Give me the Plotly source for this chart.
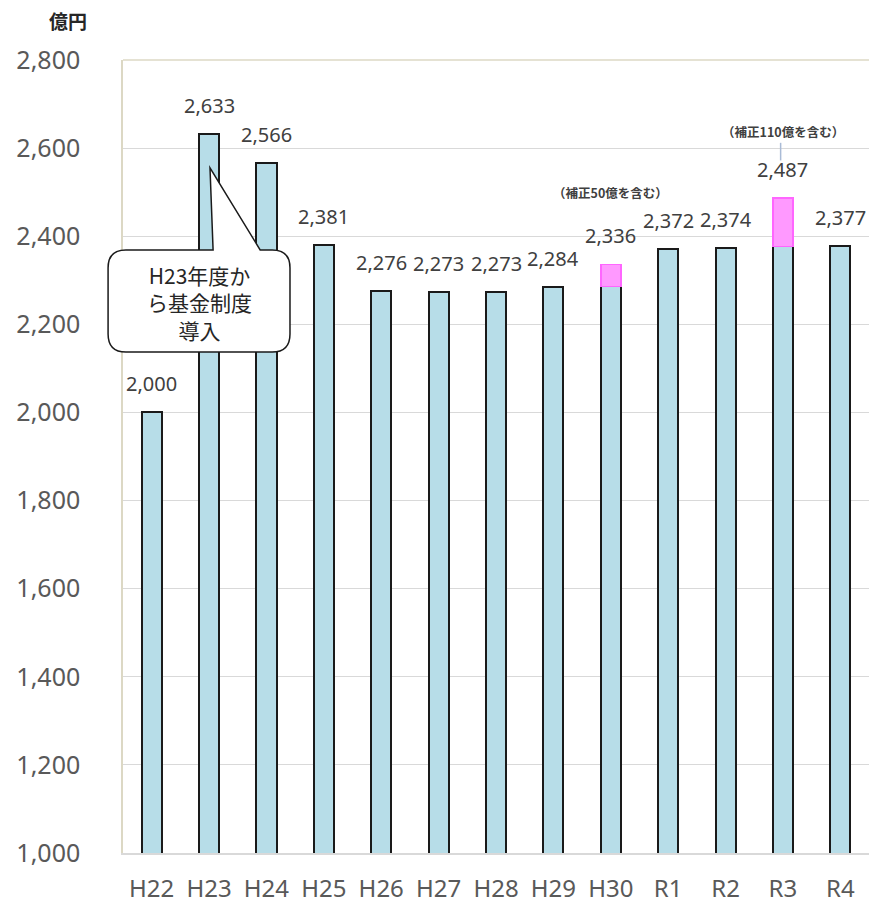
import plotly.graph_objects as go

categories = ["H22", "H23", "H24", "H25", "H26", "H27", "H28", "H29", "H30", "R1", "R2", "R3", "R4"]
base_values = [2000, 2633, 2566, 2381, 2276, 2273, 2273, 2284, 2286, 2372, 2374, 2377, 2377]
supplement_values = [None, None, None, None, None, None, None, None, 50, None, None, 110, None]
total_labels = ["2,000", "2,633", "2,566", "2,381", "2,276", "2,273", "2,273", "2,284", "2,336", "2,372", "2,374", "2,487", "2,377"]
y_ticks = [1000, 1200, 1400, 1600, 1800, 2000, 2200, 2400, 2600, 2800]

totals = [b + (s or 0) for b, s in zip(base_values, supplement_values)]
idx = list(range(len(categories)))
Y_MIN, Y_MAX = 1000, 2800
N = len(categories)

FONT = "Noto Sans, Noto Sans CJK JP, sans-serif"
JFONT = "Noto Sans CJK JP, Noto Sans, sans-serif"


def px(i):
    """category position -> paper x"""
    return (i + 0.5) / N


def py(v):
    """value -> paper y"""
    return (v - Y_MIN) / (Y_MAX - Y_MIN)


fig = go.Figure()
fig.add_trace(go.Bar(
    x=idx, y=base_values, width=0.35,
    marker=dict(color="#b7dde8", line=dict(color="#1a1a1a", width=2)),
    hoverinfo="skip",
))
fig.add_trace(go.Bar(
    x=idx, y=supplement_values, width=0.35,
    marker=dict(color="#ff99ff", line=dict(color="#ff66ff", width=1.6)),
    hoverinfo="skip",
))

annotations = []
for i, (t, lab) in enumerate(zip(totals, total_labels)):
    annotations.append(dict(
        x=i, y=t, text=lab, showarrow=False, xref="x", yref="y",
        yanchor="bottom", yshift=13,
        font=dict(family=FONT, size=20, color="#404040"),
    ))

# unit label
annotations.append(dict(
    x=-0.045, y=1.03, xref="paper", yref="paper", text="<b>億円</b>",
    showarrow=False, xanchor="right", yanchor="bottom",
    font=dict(family=JFONT, size=19, color="#262626"),
))

# supplement notes
annotations.append(dict(
    x=8, y=totals[8], xref="x", yref="y", yshift=72, text="<b>（補正50億を含む）</b>",
    showarrow=False, yanchor="middle",
    font=dict(family=JFONT, size=12.5, color="#404040"),
))
annotations.append(dict(
    x=11, y=totals[11], xref="x", yref="y", yshift=66, text="<b>（補正110億を含む）</b>",
    showarrow=False, yanchor="middle",
    font=dict(family=JFONT, size=12.5, color="#404040"),
))

# callout text
annotations.append(dict(
    x=px(0.83), y=py(2250), xref="paper", yref="paper",
    text="H23年度か<br>ら基金制度<br>導入", showarrow=False,
    align="center", xanchor="center", yanchor="middle",
    font=dict(family=JFONT, size=21, color="#262626"),
))

# callout shape (rounded box with pointer to H23 bar), paper coordinates
x0, x1 = px(-0.76), px(2.41)
y0, y1 = py(2137), py(2369)
rx, ry = 0.31 / N, 41 / (Y_MAX - Y_MIN)
tl, tip, tr = px(1.07), px(1.016), px(1.89)
tip_y = py(2555)
path = (
    f"M {x0+rx},{y1} L {tl},{y1} L {tip},{tip_y} L {tr},{y1} L {x1-rx},{y1} "
    f"Q {x1},{y1} {x1},{y1-ry} L {x1},{y0+ry} Q {x1},{y0} {x1-rx},{y0} "
    f"L {x0+rx},{y0} Q {x0},{y0} {x0},{y0+ry} L {x0},{y1-ry} Q {x0},{y1} {x0+rx},{y1} Z"
)
shapes = [
    dict(type="path", path=path, xref="paper", yref="paper",
         fillcolor="white", line=dict(color="#1a1a1a", width=1.5), layer="above"),
    # leader line for R3 note
    dict(type="line", xref="x", yref="y", x0=10.96, x1=10.96,
         y0=totals[11] + 85, y1=totals[11] + 125,
         line=dict(color="#a9bbd6", width=1.5)),
    # top border of plot
    dict(type="line", xref="paper", yref="paper", x0=0, x1=1, y0=1, y1=1,
         line=dict(color="#dcd8c4", width=1.5)),
]

fig.update_layout(
    width=869, height=907,
    margin=dict(l=123, r=0, t=60, b=54),
    paper_bgcolor="white", plot_bgcolor="white",
    barmode="stack", showlegend=False,
    annotations=annotations, shapes=shapes,
    xaxis=dict(
        tickmode="array", tickvals=idx, ticktext=categories,
        range=[-0.5, N - 0.5],
        showgrid=False, showline=True, linecolor="#d9d9d9", linewidth=1.5,
        ticks="", tickfont=dict(family=FONT, size=24, color="#595959"),
        ticklabelstandoff=13,
    ),
    yaxis=dict(
        range=[Y_MIN, Y_MAX], tickmode="array", tickvals=y_ticks,
        ticktext=[f"{v:,}" for v in y_ticks],
        showgrid=True, gridcolor="#d9d9d9", gridwidth=1,
        showline=True, linecolor="#dcd8c4", linewidth=1.5,
        zeroline=False, ticks="",
        tickfont=dict(family=FONT, size=25, color="#595959"),
        ticklabelstandoff=36,
    ),
)

fig.write_html("out.html")
